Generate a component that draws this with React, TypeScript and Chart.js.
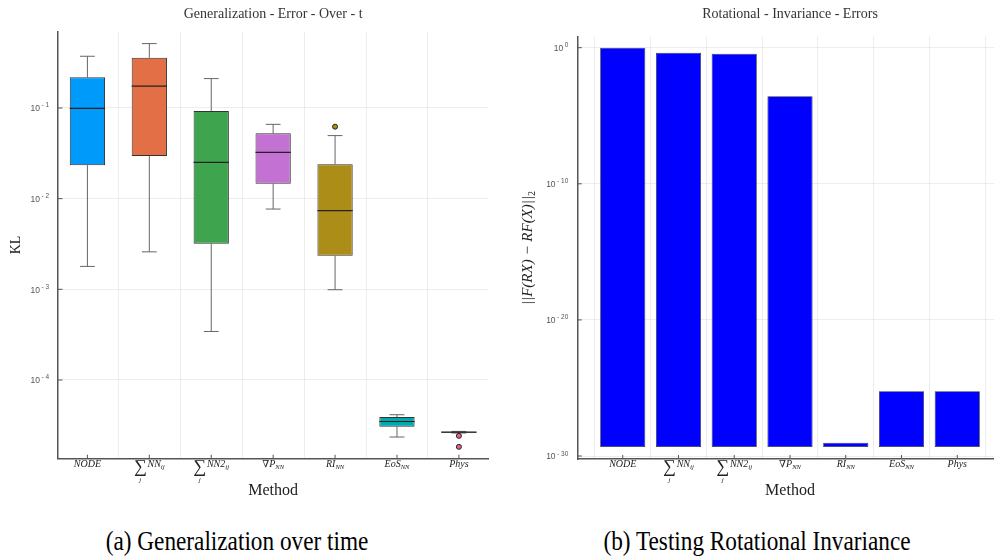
import React, { useEffect, useRef } from 'react';
import { Chart, registerables } from 'chart.js';

Chart.register(...registerables);

// ---------------- data ----------------
const CATEGORIES = ['NODE', 'SumNN_ij', 'SumNN2_ij', 'GradP_NN', 'RI_NN', 'EoS_NN', 'Phys'];

// Box plot (left panel), KL values
const BOX_MIN = [0.00179, 0.00259, 0.000343, 0.00768, 0.00099, 2.35e-5, 2.6e-5];
const BOX_Q1 = [0.0234, 0.0295, 0.00319, 0.0146, 0.00234, 3.06e-5, 2.62e-5];
const BOX_MEDIAN = [0.099, 0.174, 0.0251, 0.0324, 0.00737, 3.49e-5, 2.66e-5];
const BOX_Q3 = [0.218, 0.357, 0.0927, 0.0525, 0.024, 3.9e-5, 2.69e-5];
const BOX_MAX = [0.372, 0.513, 0.211, 0.066, 0.0496, 4.14e-5, 2.71e-5];
const OUTLIER_CATEGORY = [4, 6, 6];
const OUTLIER_VALUE = [0.0622, 2.42e-5, 1.83e-5];
const BOX_COLORS = ['#009AFA', '#E36F47', '#3EA44E', '#C371D2', '#AC8D18', '#00A9AD', '#ED5D92'];

// Bar chart (right panel), rotational invariance errors
const BAR_VALUES = [1.0, 0.43, 0.36, 2.7e-4, 9.5e-30, 5.7e-26, 5.7e-26];
const BAR_BASE = 4.5e-30;

// log tick decades
const LEFT_DECADES = [-4, -3, -2, -1];
const RIGHT_DECADES = [-30, -20, -10, 0];

// ---------------- styling helpers ----------------
const SERIF = '"Liberation Serif", "DejaVu Serif", serif';
const SANS = '"Liberation Sans", "DejaVu Sans", sans-serif';
const GRID = 'rgba(0,0,0,0.07)';
const AXIS = '#555';

type Seg = { t: string; size: number; italic: boolean; dy: number; under?: string };

const seg = (t: string, size = 10, italic = true, dy = 0, under?: string): Seg => ({ t, size, italic, dy, under });
const SUM = seg('\u2211', 18, false, 5, 'j');

const LABEL_SEGMENTS: Seg[][] = [
  [seg('NODE')],
  [SUM, seg(' ', 3), seg('NN'), seg('ij', 7, true, 2)],
  [SUM, seg(' ', 3), seg('NN2'), seg('ij', 7, true, 2)],
  [seg('\u2207', 10, false), seg('P'), seg('NN', 6.5, true, 2)],
  [seg('RI'), seg('NN', 6.5, true, 2)],
  [seg('EoS'), seg('NN', 6.5, true, 2)],
  [seg('Phys')],
];

const segFont = (s: Seg) => `${s.italic ? 'italic ' : ''}${s.size}px ${SERIF}`;

function drawSegs(ctx: CanvasRenderingContext2D, segs: Seg[], cx: number, baseY: number) {
  const widths = segs.map((s) => {
    ctx.font = segFont(s);
    return ctx.measureText(s.t).width;
  });
  const total = widths.reduce((a, b) => a + b, 0);
  let x = cx - total / 2;
  ctx.textAlign = 'left';
  ctx.textBaseline = 'alphabetic';
  segs.forEach((s, i) => {
    ctx.font = segFont(s);
    ctx.fillText(s.t, x, baseY + s.dy);
    if (s.under) {
      ctx.font = `italic 7px ${SERIF}`;
      ctx.textAlign = 'center';
      ctx.fillText(s.under, x + widths[i] / 2, baseY + 15);
      ctx.textAlign = 'left';
    }
    x += widths[i];
  });
}

function drawDecadeLabel(ctx: CanvasRenderingContext2D, exp: number, rightX: number, y: number) {
  const expStr = exp < 0 ? `- ${Math.abs(exp)}` : `${exp}`;
  ctx.fillStyle = '#555';
  ctx.textAlign = 'right';
  ctx.textBaseline = 'alphabetic';
  ctx.font = `6.5px ${SANS}`;
  const ew = ctx.measureText(expStr).width;
  ctx.fillText(expStr, rightX, y - 0.5);
  ctx.font = `8.5px ${SANS}`;
  ctx.fillText('10', rightX - ew - 1.5, y + 3.2);
}

function commonDecor(opts: {
  title: string;
  titleX?: number;
  decades: number[];
  yLabel: (ctx: CanvasRenderingContext2D) => void;
}) {
  return {
    id: 'decor',
    afterDraw(chart: any) {
      const ctx: CanvasRenderingContext2D = chart.ctx;
      const xs = chart.scales.x;
      const ys = chart.scales.y;
      const area = chart.chartArea;
      ctx.save();
      // inward tick marks
      ctx.strokeStyle = AXIS;
      ctx.lineWidth = 1;
      CATEGORIES.forEach((_, i) => {
        const px = xs.getPixelForValue(i);
        ctx.beginPath();
        ctx.moveTo(px, area.bottom);
        ctx.lineTo(px, area.bottom - 4);
        ctx.stroke();
      });
      opts.decades.forEach((d) => {
        const py = ys.getPixelForValue(Math.pow(10, d));
        ctx.beginPath();
        ctx.moveTo(area.left, py);
        ctx.lineTo(area.left + 4.5, py);
        ctx.stroke();
        drawDecadeLabel(ctx, d, area.left - 9, py);
      });
      // category labels
      ctx.fillStyle = '#222';
      CATEGORIES.forEach((_, i) => {
        drawSegs(ctx, LABEL_SEGMENTS[i], xs.getPixelForValue(i), area.bottom + 8);
      });
      // x title
      ctx.fillStyle = '#222';
      ctx.font = `16px ${SERIF}`;
      ctx.textAlign = 'center';
      ctx.textBaseline = 'middle';
      ctx.fillText('Method', (area.left + area.right) / 2, 491);
      // title
      ctx.font = `14px ${SERIF}`;
      ctx.fillStyle = '#333';
      ctx.fillText(opts.title, opts.titleX ?? (area.left + area.right) / 2, 14);
      opts.yLabel(ctx);
      ctx.restore();
    },
  };
}

const boxPlugin = {
  id: 'boxWhiskers',
  beforeDatasetsDraw(chart: any) {
    const ctx: CanvasRenderingContext2D = chart.ctx;
    const xs = chart.scales.x;
    const ys = chart.scales.y;
    const cap = xs.getPixelForValue(0.12) - xs.getPixelForValue(0);
    ctx.save();
    ctx.strokeStyle = '#666';
    ctx.lineWidth = 1;
    CATEGORIES.forEach((_, i) => {
      const px = xs.getPixelForValue(i);
      const yMax = ys.getPixelForValue(BOX_MAX[i]);
      const yMin = ys.getPixelForValue(BOX_MIN[i]);
      const yQ1 = ys.getPixelForValue(BOX_Q1[i]);
      const yQ3 = ys.getPixelForValue(BOX_Q3[i]);
      ctx.beginPath();
      ctx.moveTo(px, yQ3);
      ctx.lineTo(px, yMax);
      ctx.moveTo(px - cap, yMax);
      ctx.lineTo(px + cap, yMax);
      ctx.moveTo(px, yQ1);
      ctx.lineTo(px, yMin);
      ctx.moveTo(px - cap, yMin);
      ctx.lineTo(px + cap, yMin);
      ctx.stroke();
    });
    ctx.restore();
  },
  afterDatasetDraw(chart: any, args: any) {
    if (args.index !== 0) return;
    const ctx: CanvasRenderingContext2D = chart.ctx;
    const xs = chart.scales.x;
    const ys = chart.scales.y;
    const half = xs.getPixelForValue(0.285) - xs.getPixelForValue(0);
    ctx.save();
    ctx.strokeStyle = '#222';
    ctx.lineWidth = 1.1;
    CATEGORIES.forEach((_, i) => {
      const px = xs.getPixelForValue(i);
      const py = ys.getPixelForValue(BOX_MEDIAN[i]);
      ctx.beginPath();
      ctx.moveTo(px - half, py);
      ctx.lineTo(px + half, py);
      ctx.stroke();
    });
    ctx.restore();
  },
};

const gridOpts = { color: GRID, lineWidth: 1, drawTicks: false };
const borderOpts = { display: true, color: AXIS, width: 1.5 };

function leftConfig(): any {
  return {
    type: 'bar',
    data: {
      datasets: [
        {
          type: 'bar',
          data: CATEGORIES.map((_, i) => ({ x: i, y: [BOX_Q1[i], BOX_Q3[i]] })),
          backgroundColor: BOX_COLORS,
          borderColor: '#333',
          borderWidth: 1,
          borderSkipped: false,
          barPercentage: 0.57,
          categoryPercentage: 1,
          order: 2,
        },
        {
          type: 'scatter',
          data: OUTLIER_CATEGORY.map((c, k) => ({ x: c, y: OUTLIER_VALUE[k] })),
          pointBackgroundColor: OUTLIER_CATEGORY.map((c) => BOX_COLORS[c]),
          pointBorderColor: '#222',
          pointBorderWidth: 1,
          pointRadius: 2.5,
          order: 1,
        },
      ],
    },
    options: {
      animation: false,
      responsive: false,
      maintainAspectRatio: false,
      layout: { padding: { top: 32, right: 8.7, left: 0, bottom: 0 } },
      plugins: { legend: { display: false }, tooltip: { enabled: false }, title: { display: false } },
      scales: {
        x: {
          type: 'linear',
          min: -0.475,
          max: 6.475,
          bounds: 'data',
          offset: false,
          grid: gridOpts,
          border: borderOpts,
          ticks: { display: false },
          afterBuildTicks: (s: any) => {
            s.ticks = CATEGORIES.map((_, i) => ({ value: i }));
          },
          afterFit: (s: any) => {
            s.height = 41.3;
          },
        },
        y: {
          type: 'logarithmic',
          min: Math.pow(10, -4.868),
          max: Math.pow(10, -0.162),
          bounds: 'data',
          grid: gridOpts,
          border: borderOpts,
          ticks: { display: false },
          afterBuildTicks: (s: any) => {
            s.ticks = LEFT_DECADES.map((d) => ({ value: Math.pow(10, d) }));
          },
          afterFit: (s: any) => {
            s.width = 58;
          },
        },
      },
    },
    plugins: [
      boxPlugin,
      commonDecor({
        title: 'Generalization - Error - Over - t',
        decades: LEFT_DECADES,
        yLabel: (ctx) => {
          ctx.save();
          ctx.translate(16, 245);
          ctx.rotate(-Math.PI / 2);
          ctx.font = `14px ${SERIF}`;
          ctx.fillStyle = '#222';
          ctx.textAlign = 'center';
          ctx.textBaseline = 'middle';
          ctx.fillText('KL', 0, 0);
          ctx.restore();
        },
      }),
    ],
  };
}

function rightConfig(): any {
  return {
    type: 'bar',
    data: {
      datasets: [
        {
          type: 'bar',
          data: CATEGORIES.map((_, i) => ({ x: i, y: [BAR_BASE, BAR_VALUES[i]] })),
          backgroundColor: '#0000FF',
          borderColor: '#333',
          borderWidth: 0.8,
          borderSkipped: false,
          barPercentage: 0.81,
          categoryPercentage: 1,
        },
      ],
    },
    options: {
      animation: false,
      responsive: false,
      maintainAspectRatio: false,
      layout: { padding: { top: 36.7, right: 14.3, left: 0, bottom: 0 } },
      plugins: { legend: { display: false }, tooltip: { enabled: false }, title: { display: false } },
      scales: {
        x: {
          type: 'linear',
          min: -0.815,
          max: 6.815,
          bounds: 'data',
          offset: false,
          grid: gridOpts,
          border: borderOpts,
          ticks: { display: false },
          afterBuildTicks: (s: any) => {
            s.ticks = CATEGORIES.map((_, i) => ({ value: i }));
          },
          afterFit: (s: any) => {
            s.height = 41;
          },
        },
        y: {
          type: 'logarithmic',
          min: Math.pow(10, -30.22),
          max: Math.pow(10, 0.808),
          bounds: 'data',
          grid: gridOpts,
          border: borderOpts,
          ticks: { display: false },
          afterBuildTicks: (s: any) => {
            s.ticks = RIGHT_DECADES.map((d) => ({ value: Math.pow(10, d) }));
          },
          afterFit: (s: any) => {
            s.width = 80.3;
          },
        },
      },
    },
    plugins: [
      commonDecor({
        title: 'Rotational - Invariance - Errors',
        titleX: 293,
        decades: RIGHT_DECADES,
        yLabel: (ctx) => {
          ctx.save();
          ctx.translate(31, 248);
          ctx.rotate(-Math.PI / 2);
          ctx.fillStyle = '#222';
          ctx.textBaseline = 'middle';
          const main = '||F(RX) \u2212 RF(X)||';
          ctx.font = `italic 15px ${SERIF}`;
          const w1 = ctx.measureText(main).width;
          ctx.font = `italic 10px ${SERIF}`;
          const w2 = ctx.measureText('2').width;
          const start = -(w1 + w2) / 2;
          ctx.textAlign = 'left';
          ctx.font = `italic 15px ${SERIF}`;
          ctx.fillText(main, start, 0);
          ctx.font = `10px ${SERIF}`;
          ctx.fillText('2', start + w1, 4);
          ctx.restore();
        },
      }),
    ],
  };
}

function ChartCanvas({ config, left, width, height }: { config: () => any; left: number; width: number; height: number }) {
  const ref = useRef<HTMLCanvasElement | null>(null);
  useEffect(() => {
    if (!ref.current) return;
    const chart = new Chart(ref.current, config());
    return () => chart.destroy();
  }, [config]);
  return (
    <canvas
      ref={ref}
      width={width}
      height={height}
      style={{ position: 'absolute', left, top: 0, width, height, display: 'block' }}
    />
  );
}

const captionStyle: React.CSSProperties = {
  position: 'absolute',
  top: 526,
  width: 440,
  height: 30,
  fontFamily: SERIF,
  fontSize: 28,
  lineHeight: '30px',
  color: '#000',
  textAlign: 'center',
  whiteSpace: 'nowrap',
  transform: 'scaleX(0.83)',
  transformOrigin: 'center',
};

export default function App() {
  return (
    <div
      style={{
        position: 'fixed',
        left: 0,
        top: 0,
        width: 994,
        height: 558,
        overflow: 'hidden',
        background: '#fff',
      }}
    >
      <ChartCanvas config={leftConfig} left={0} width={497} height={500} />
      <ChartCanvas config={rightConfig} left={497} width={520} height={500} />
      <div style={{ ...captionStyle, left: 237 - 220 }}>(a) Generalization over time</div>
      <div style={{ ...captionStyle, left: 757 - 220 }}>(b) Testing Rotational Invariance</div>
    </div>
  );
}
